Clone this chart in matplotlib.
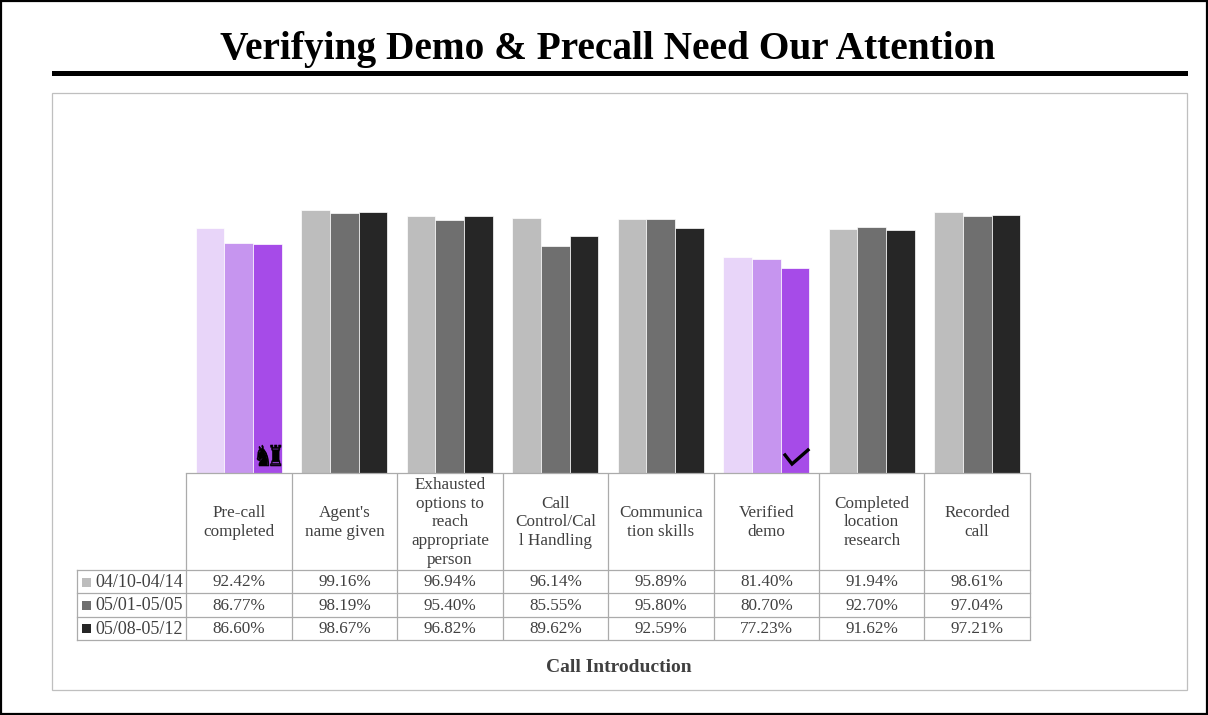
import matplotlib
matplotlib.use("Agg")
import matplotlib.pyplot as plt
from matplotlib.font_manager import FontProperties
from matplotlib.patches import PathPatch, Rectangle
from matplotlib.text import TextPath
from matplotlib.transforms import Affine2D

W, H = 1208, 715
plt.rcParams['font.family'] = ['Liberation Serif', 'DejaVu Serif']

title = "Verifying Demo & Precall Need Our Attention"
axis_title = "Call Introduction"
categories = ["Pre-call\ncompleted", "Agent's\nname given",
              "Exhausted\noptions to\nreach\nappropriate\nperson",
              "Call\nControl/Cal\nl Handling", "Communica\ntion skills",
              "Verified\ndemo", "Completed\nlocation\nresearch", "Recorded\ncall"]
series_names = ["04/10-04/14", "05/01-05/05", "05/08-05/12"]
week_1 = [92.42, 99.16, 96.94, 96.14, 95.89, 81.40, 91.94, 98.61]
week_2 = [86.77, 98.19, 95.40, 85.55, 95.80, 80.70, 92.70, 97.04]
week_3 = [86.60, 98.67, 96.82, 89.62, 92.59, 77.23, 91.62, 97.21]
series_values = [week_1, week_2, week_3]

grey_colors = ["#BDBDBD", "#6F6F6F", "#262626"]
purple_colors = ["#E8D5F9", "#C695EF", "#A64BE8"]
highlighted = [0, 5]
edges_x = [185.5, 292, 396.5, 503, 607.5, 713.5, 819, 924, 1029.5]

fig = plt.figure(figsize=(W / 100, H / 100), dpi=100, facecolor="white")

# Full-figure pixel layer for the frame, title and data table
bg = fig.add_axes([0, 0, 1, 1])
bg.set_xlim(0, W)
bg.set_ylim(H, 0)
bg.axis("off")
bg.patch.set_alpha(0)
bg.set_zorder(2)

bg.add_patch(Rectangle((1, 1), W - 2, H - 2.5, fill=False, ec="black", lw=1.6))
bg.add_patch(Rectangle((52, 93), 1135, 597, fill=False, ec="#BFBFBF", lw=0.9))
bg.add_patch(Rectangle((52, 71), 1136, 5, fc="black", ec="none"))
bg.text(608, 49, title, ha="center", va="center", fontsize=28.35, fontweight="bold", color="black")
bg.text(618.5, 668, axis_title, ha="center", va="center", fontsize=14, fontweight="bold", color="#404040")

LINE = "#ABABAB"
TXT = "#404040"
table_top, header_bottom = 473, 570
row_edges = [570, 593, 616.5, 640]
left = 77
for x in edges_x:
    bg.plot([x, x], [table_top, row_edges[-1]], color=LINE, lw=0.9, solid_capstyle="butt")
bg.plot([left, left], [row_edges[0], row_edges[-1]], color=LINE, lw=0.9)
bg.plot([edges_x[0], edges_x[-1]], [table_top, table_top], color=LINE, lw=0.9)
for y in row_edges:
    bg.plot([left, edges_x[-1]], [y, y], color=LINE, lw=0.9)

for i, label in enumerate(categories):
    cx = (edges_x[i] + edges_x[i + 1]) / 2 + 0.3
    bg.text(cx, (table_top + header_bottom) / 2 + 1, label, ha="center", va="center",
            fontsize=12.3, color=TXT, linespacing=1.22)
for r, (name, values) in enumerate(zip(series_names, series_values)):
    cy = (row_edges[r] + row_edges[r + 1]) / 2 + 1
    bg.add_patch(Rectangle((82, cy - 5), 9, 9, fc=grey_colors[r], ec="none"))
    bg.text(95, cy, name, ha="left", va="center", fontsize=13, color=TXT)
    for i, v in enumerate(values):
        cx = (edges_x[i] + edges_x[i + 1]) / 2 + 0.3
        bg.text(cx, cy, f"{v:.2f}%", ha="center", va="center", fontsize=12.3, color=TXT)

# Clustered bars, aligned with the table columns
ax = fig.add_axes([186 / W, 1 - 473 / H, (1030 - 186) / W, 318 / H])
ax.set_xlim(0, 8)
ax.set_ylim(0, 120)
ax.axis("off")
ax.patch.set_alpha(0)
ax.set_zorder(1)
bar_w = 0.272
for s, values in enumerate(series_values):
    for i, v in enumerate(values):
        color = purple_colors[s] if i in highlighted else grey_colors[s]
        ax.bar(i + 0.5 + (s - 1) * bar_w, v, width=bar_w, color=color, edgecolor="white", linewidth=0.5)


def chess_icon(glyph, x0, x1, y0, y1):
    """Fit a chess glyph's outline into a pixel box on the table layer."""
    path = TextPath((0, 0), glyph, size=20, prop=FontProperties(family="DejaVu Sans"))
    box = path.get_extents()
    fit = (Affine2D().translate(-box.x0, -box.y1)
           .scale((x1 - x0) / box.width, -(y1 - y0) / box.height)
           .translate(x0, y0))
    bg.add_patch(PathPatch(path.transformed(fit), fc="black", ec="black", lw=0.4, zorder=5))


# Status icons sitting at the foot of the darkest highlighted bars
chess_icon("\u265E", 257, 269, 445, 466)
chess_icon("\u265C", 270.5, 281, 445, 466)
bg.plot([785, 792, 808], [455, 464, 450], color="black", lw=2.4, solid_joinstyle="miter", zorder=5)

fig.savefig("out.png", dpi=100, facecolor="white")
